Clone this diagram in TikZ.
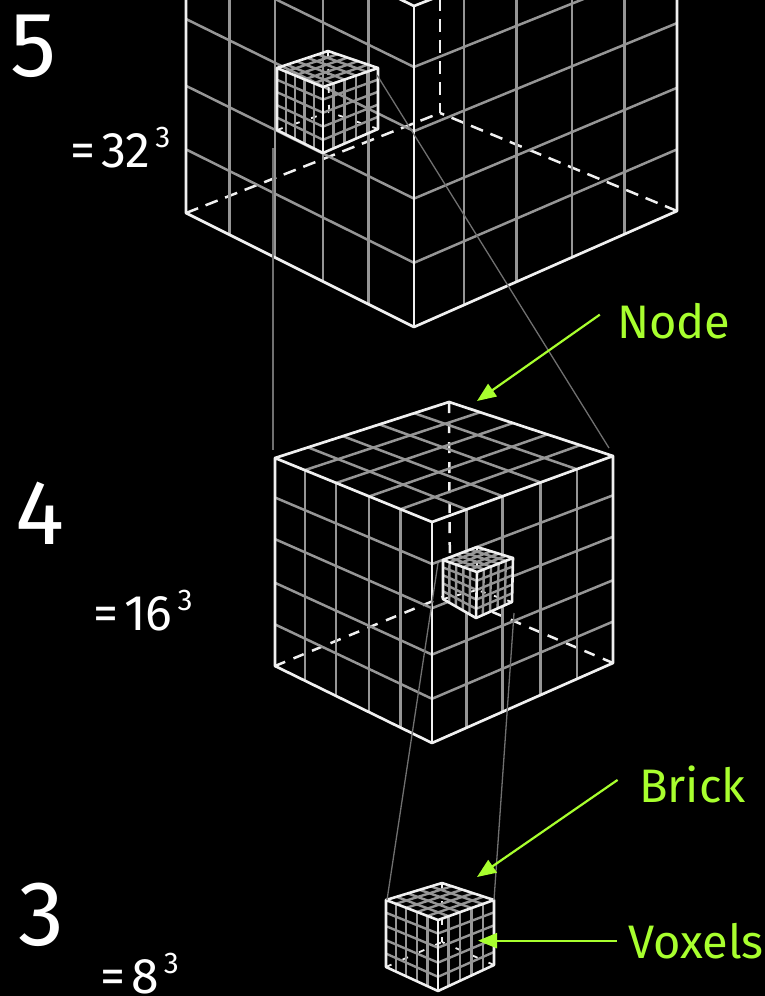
\documentclass[tikz,border=0pt]{standalone}
\usepackage{fontspec}
\setmainfont{Fira Sans}
\usetikzlibrary{calc,arrows.meta}
\definecolor{limeg}{HTML}{A8FF2E}
\definecolor{gridg}{HTML}{969696}
\definecolor{edgew}{HTML}{F0F0F0}
\definecolor{linkg}{HTML}{707070}
\tikzset{
  gridline/.style={gridg,line width=2.5pt},
  edgeline/.style={edgew,line width=2.7pt,line join=round},
  hidden/.style={edgew,line width=2.5pt},
  brickgrid/.style={gridg,line width=2.4pt},
  brickedge/.style={edgew,line width=2.6pt,line join=round},
  brickhidden/.style={edgew,line width=1.8pt},
  linkline/.style={linkg,line width=1.3pt},
  callout/.style={limeg,line width=2.2pt,-{Triangle[length=19pt,width=15pt]}},
  calloutlabel/.style={limeg,inner sep=0pt,font=\fontsize{47}{47}\selectfont},
  levelnum/.style={white,inner sep=0pt,anchor=base,font=\fontsize{92}{92}\selectfont},
  sizelabel/.style={white,inner sep=0pt,anchor=base west,font=\fontsize{50}{50}\selectfont}
}
% corners: #1 prefix, #2 grid style, #3 edge style, #4 hidden style, #5 dash pattern
\newcommand\wirecube[5]{%
  \draw[#4,dash pattern=#5] (#1Lb) -- (#1Bb);
  \draw[#4,dash pattern=#5] (#1Rb) -- (#1Bb);
  \draw[#4,dash pattern=#5] (#1Bt) -- (#1Bb);
  \foreach \f in {0.19,0.39,0.60,0.80}{
    \draw[#2] ($(#1Lt)!\f!(#1Ft)$) -- ($(#1Lb)!\f!(#1Fb)$);
    \draw[#2] ($(#1Ft)!\f!(#1Rt)$) -- ($(#1Fb)!\f!(#1Rb)$);
    \draw[#2] ($(#1Lt)!\f!(#1Lb)$) -- ($(#1Ft)!\f!(#1Fb)$);
    \draw[#2] ($(#1Ft)!\f!(#1Fb)$) -- ($(#1Rt)!\f!(#1Rb)$);
    \draw[#2] ($(#1Lt)!\f!(#1Ft)$) -- ($(#1Bt)!\f!(#1Rt)$);
    \draw[#2] ($(#1Lt)!\f!(#1Bt)$) -- ($(#1Ft)!\f!(#1Rt)$);
  }
  \draw[#3] (#1Lb) -- (#1Fb) -- (#1Rb) -- (#1Rt) -- (#1Ft) -- (#1Lt) -- cycle;
  \draw[#3] (#1Ft) -- (#1Fb);
  \draw[#3] (#1Lt) -- (#1Bt) -- (#1Rt);
}
\newcommand\setcube[9]{%
  \coordinate (#1Lt) at #2; \coordinate (#1Ft) at #3; \coordinate (#1Rt) at #4;
  \coordinate (#1Bt) at #5; \coordinate (#1Lb) at #6; \coordinate (#1Fb) at #7;
  \coordinate (#1Rb) at #8; \coordinate (#1Bb) at #9;
}
\newcommand\cubedsize[1]{=\kern6pt#1\kern5pt\raisebox{0.4em}{\fontsize{30}{30}\selectfont 3}}
\begin{document}
\begin{tikzpicture}[x=1pt,y=-1pt]
\useasboundingbox (0,0) rectangle (765,996);
\fill[black] (0,0) rectangle (765,996);
\clip (0,0) rectangle (765,996);

% level 5
\setcube{a}{(186,-105)}{(414,6)}{(677,-97)}{(440,-170)}{(186,213)}{(414,327)}{(677,211)}{(440,113)}
\wirecube{a}{gridline}{edgeline}{hidden}{on 13pt off 8pt}
\setcube{p}{(277,68)}{(323,87)}{(378,68)}{(328,51)}{(277,130)}{(323,153)}{(378,129)}{(329,112)}
\wirecube{p}{brickgrid}{brickedge}{brickhidden}{on 6pt off 12pt}

% level 4
\setcube{b}{(275,458)}{(432,522)}{(613,456)}{(449,402)}{(275,666)}{(432,743)}{(613,663)}{(450,594)}
\wirecube{b}{gridline}{edgeline}{hidden}{on 11pt off 9pt}
\fill[black] (443,560) -- (477,547) -- (513,558) -- (512,602) -- (476,618) -- (443,599) -- cycle;
\setcube{q}{(443,560)}{(477,572)}{(513,558)}{(477,547)}{(443,599)}{(476,618)}{(512,602)}{(477,590)}
\wirecube{q}{brickgrid}{brickedge}{brickhidden}{on 5pt off 9pt}

% level 3
\setcube{r}{(386,900)}{(438,920)}{(494,900)}{(442,883)}{(386,967)}{(438,991)}{(494,965)}{(442,942)}
\wirecube{r}{brickgrid}{brickedge}{brickhidden}{on 6pt off 12pt}

% links between levels
\coordinate (l1a) at (273,148); \coordinate (l1b) at (273,450);
\coordinate (l2a) at (377,75);  \coordinate (l2b) at (609,448);
\coordinate (l3a) at (438,563); \coordinate (l3b) at (387,900);
\coordinate (l4a) at (514,613); \coordinate (l4b) at (494,900);
\draw[linkline] (l1a) -- (l1b);
\draw[linkline] (l2a) -- (l2b);
\draw[linkline] (l3a) -- (l3b);
\draw[linkline] (l4a) -- (l4b);

% callouts
\node[calloutlabel,anchor=base west] (nodelabel) at (617,338) {Node};
\node[calloutlabel,anchor=base west] (bricklabel) at (639,802) {Brick};
\node[calloutlabel,anchor=base west] (voxlabel) at (628,958) {Voxels};
\coordinate (nodetip) at (477,401);
\coordinate (bricktip) at (477,877);
\coordinate (voxtip) at (478,0 |- voxlabel.west);
\draw[callout,shorten <=21pt] (nodelabel.north west) -- (nodetip);
\draw[callout,shorten <=26pt] (bricklabel.north west) -- (bricktip);
\draw[callout,shorten <=11pt] (voxlabel.west) -- (voxtip);

% level numbers
\node[levelnum] (n5) at (34,76) {5};
\node[levelnum] (n4) at (40,544) {4};
\node[levelnum] (n3) at (41,945) {3};
\node[sizelabel] (s5) at (70,167) {\cubedsize{32}};
\node[sizelabel] (s4) at (93,630) {\cubedsize{16}};
\node[sizelabel] (s3) at (100,993) {\cubedsize{8}};
\end{tikzpicture}
\end{document}
